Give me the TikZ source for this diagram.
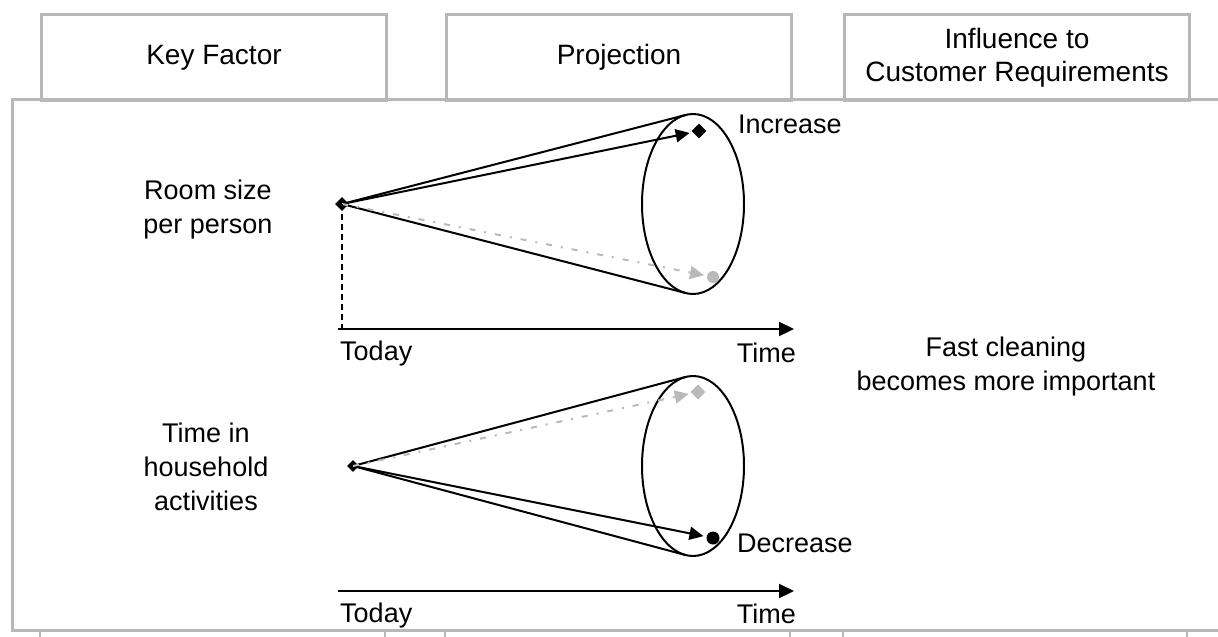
\documentclass[tikz,border=0pt]{standalone}
\usepackage{fontspec}
\setmainfont{Liberation Sans}
\usetikzlibrary{arrows.meta,shapes.geometric}
\definecolor{frame}{RGB}{184,184,184}
\definecolor{ghost}{RGB}{185,185,185}
\begin{document}
\begin{tikzpicture}[x=1pt,y=-1pt,
  tab/.style={draw=frame,line width=3pt,fill=white,minimum width=345pt,minimum height=86pt,
    anchor=north west,inner sep=0pt,align=center,font=\fontsize{28}{33}\selectfont},
  lbl/.style={font=\fontsize{27}{34}\selectfont,inner sep=0pt,align=center},
  cone/.style={line width=2pt,black},
  ghostline/.style={line width=2pt,ghost,dash pattern=on 6pt off 9pt on 2pt off 9pt},
  tip/.style={-{Triangle[length=14pt,width=13pt]}},
  axisarrow/.style={line width=2.2pt,-{Triangle[length=15pt,width=14pt]}},
  rim/.style={ellipse,draw,line width=2pt,minimum width=102pt,minimum height=180pt,inner sep=0pt},
  apexmark/.style={diamond,fill=black,inner sep=0pt,minimum size=14pt},
  tick/.style={draw=frame,line width=2pt}
]
\useasboundingbox (0,0) rectangle (1218,637);
\fill[white] (0,0) rectangle (1218,637);

% header tabs
\node[tab] (h1) at (40,13) {Key Factor};
\node[tab] (h2) at (445,13) {Projection};
\node[tab] (h3) at (843,13) {Influence to\\Customer Requirements};

% main panel
\coordinate (pTR) at (1240,99);
\coordinate (pTL) at (12,99);
\coordinate (pBL) at (12,630);
\coordinate (pBR) at (1240,630);
\draw[frame,line width=3pt] (pTR) -- (pTL) -- (pBL) -- (pBR);

% ticks of the next row of tabs
\foreach \x [count=\i] in {40,385,445,790,843,1187}{
  \coordinate (k\i) at (\x,631);
  \draw[tick] (k\i) -- ++(0,8);
}

% ---------- cone 1: Room size per person ----------
\node[rim] (e1) at (693,204) {};
\node[apexmark] (a1) at (342,204) {};
\coordinate (u1) at (685.6,115);
\coordinate (l1) at (685.6,293);
\draw[cone] (a1.center) -- (u1);
\draw[cone] (a1.center) -- (l1);
\node[diamond,fill=black,inner sep=0pt,minimum size=15pt] (m1) at (699,131) {};
\draw[cone,tip,shorten >=3pt] (a1.center) -- (m1);
\node[circle,fill=ghost,inner sep=0pt,minimum size=12pt] (g1) at (713,277) {};
\draw[ghostline,-{Triangle[length=14pt,width=13pt,fill=ghost]},shorten >=3pt] (a1.center) -- (g1);
\node[lbl,anchor=base west] (inc) at (738,133) {Increase};

% axis 1
\coordinate (t1) at (338,329);
\coordinate (t1e) at (794,329);
\draw[line width=1.6pt,dashed,dash pattern=on 6pt off 4pt] (a1.center) -- (a1.center |- t1);
\draw[axisarrow] (t1) -- (t1e);
\node[lbl,anchor=base west] (td1) at (340,360) {Today};
\node[lbl,anchor=base east] (tm1) at (796,362) {Time};
\node[lbl,anchor=base] (k1) at (208,233) {Room size\\per person};

% ---------- cone 2: Time in household activities ----------
\node[rim] (e2) at (693,466) {};
\node[apexmark,minimum size=12pt] (a2) at (353,466) {};
\coordinate (u2) at (685.4,377);
\coordinate (l2) at (685.4,555);
\draw[cone] (a2.center) -- (u2);
\draw[cone] (a2.center) -- (l2);
\node[circle,fill=black,inner sep=0pt,minimum size=13pt] (m2) at (713,538) {};
\draw[cone,tip,shorten >=3pt] (a2.center) -- (m2);
\node[diamond,fill=ghost,inner sep=0pt,minimum size=15pt] (g2) at (698,392) {};
\draw[ghostline,-{Triangle[length=14pt,width=13pt,fill=ghost]},shorten >=3pt] (a2.center) -- (g2);
\node[lbl,anchor=base west] (dec) at (737,552) {Decrease};

% axis 2
\coordinate (t2) at (338,591);
\coordinate (t2e) at (794,591);
\draw[axisarrow] (t2) -- (t2e);
\node[lbl,anchor=base west] (td2) at (340,622) {Today};
\node[lbl,anchor=base east] (tm2) at (796,623) {Time};
\node[lbl,anchor=base] (k2) at (206,510) {Time in\\household\\activities};

% influence
\node[lbl,anchor=base] (inf) at (1006,390) {Fast cleaning\\becomes more important};
\end{tikzpicture}
\end{document}
